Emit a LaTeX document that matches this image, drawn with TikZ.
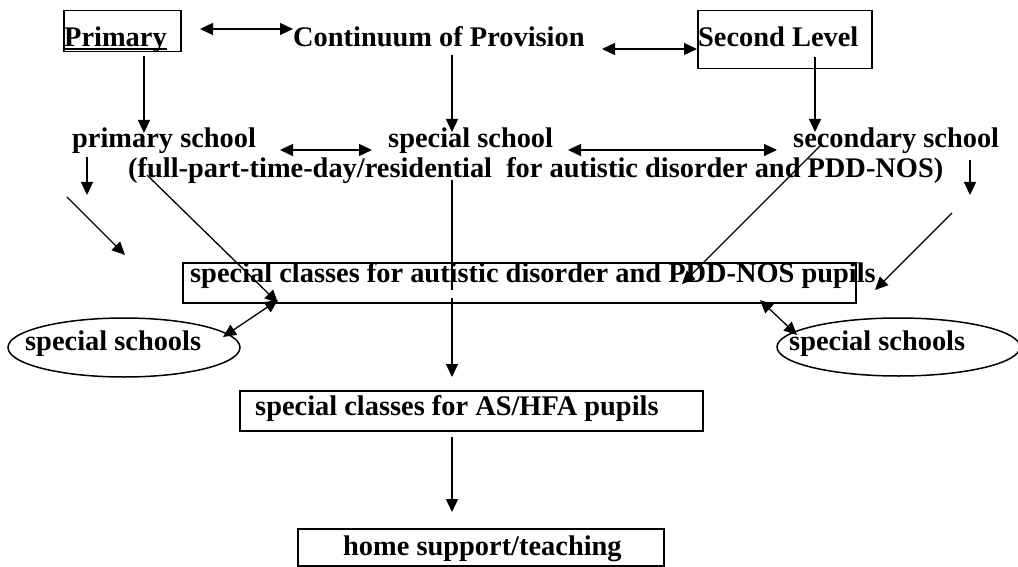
\documentclass[tikz,border=0pt]{standalone}
\usepackage{fontspec}
\setmainfont{Liberation Serif}
\usetikzlibrary{arrows.meta,shapes.geometric}

\tikzset{
  lbl/.style={anchor=base west, inner sep=0pt, font=\bfseries\fontsize{28.4}{34}\selectfont},
  boxed/.style={draw, line width=1.5pt, inner sep=0pt, anchor=north west},
  oval/.style={draw, ellipse, line width=1.5pt, inner sep=0pt},
  conn/.style={line width=1.3pt, -{Triangle[length=13pt,width=12pt]}},
  dbl/.style={line width=1.3pt, {Triangle[length=13pt,width=12pt]}-{Triangle[length=13pt,width=12pt]}},
}

\begin{document}
\begin{tikzpicture}[x=1pt,y=-1pt]
  \useasboundingbox (0,0) rectangle (1018,567);

  % frames
  \node[boxed, minimum width=117pt, minimum height=41pt] (primarybox) at (63,10) {};
  \node[boxed, minimum width=174pt, minimum height=58pt] (secondbox) at (697,10) {};
  \node[boxed, minimum width=673pt, minimum height=40pt] (autbox) at (182,262) {};
  \node[boxed, minimum width=463pt, minimum height=40pt] (asbox) at (239,390) {};
  \node[boxed, minimum width=366pt, minimum height=37pt] (homebox) at (297,528) {};
  \node[oval, minimum width=232pt, minimum height=59pt] (leftoval) at (124,347.5) {};
  \node[oval, minimum width=243pt, minimum height=58pt] (rightoval) at (898.5,347) {};

  % texts
  \node[lbl] (primary) at (64,47) {Primary};
  \draw[line width=1.2pt] ([yshift=-2pt]primary.base west) -- ([yshift=-2pt]primary.base east);
  \node[lbl] (continuum) at (293,47) {Continuum of Provision};
  \node[lbl] (second) at (698,47) {Second Level};
  \node[lbl] (primschool) at (72,148) {primary school};
  \node[lbl] (specschool) at (388,148) {special school};
  \node[lbl] (secschool) at (793,148) {secondary school};
  \node[lbl] (timing) at (128,178) {(full-part-time-day/residential\ \ for autistic disorder and PDD-NOS)};
  \node[lbl] (autclass) at (190,282) {special classes for autistic disorder and PDD-NOS pupils};
  \node[lbl] (leftspec) at (25,350) {special schools};
  \node[lbl] (rightspec) at (789,350) {special schools};
  \node[lbl] (asclass) at (255,415) {special classes for AS/HFA pupils};
  \node[lbl] (home) at (343,555) {home support/teaching};

  % connector ends
  \coordinate (a1) at (200,29);   \coordinate (a2) at (293,29);
  \coordinate (b1) at (602,49);   \coordinate (b2) at (697,49);
  \coordinate (c1) at (144,56);   \coordinate (c2) at (144,133);
  \coordinate (d1) at (452,55);   \coordinate (d2) at (452,132);
  \coordinate (e1) at (815,57);   \coordinate (e2) at (815,132);
  \coordinate (f1) at (280,150);  \coordinate (f2) at (372,150);
  \coordinate (g1) at (568,150);  \coordinate (g2) at (777,150);
  \coordinate (h1) at (87,157);   \coordinate (h2) at (87,195);
  \coordinate (i1) at (970,160);  \coordinate (i2) at (970,195);
  \coordinate (j1) at (67,197);   \coordinate (j2) at (125,255);
  \coordinate (k1) at (147,175);  \coordinate (k2) at (278,303);
  \coordinate (l1) at (452,180);  \coordinate (l2) at (452,290);
  \coordinate (m1) at (452,298);  \coordinate (m2) at (452,377);
  \coordinate (n1) at (223,337);  \coordinate (n2) at (278,300);
  \coordinate (o1) at (820,146);  \coordinate (o2) at (682,284);
  \coordinate (p1) at (952,213);  \coordinate (p2) at (875,290);
  \coordinate (q1) at (760,300);  \coordinate (q2) at (797,335);
  \coordinate (r1) at (452,437);  \coordinate (r2) at (452,512);

  % connectors
  \draw[dbl] (a1) -- (a2);
  \draw[dbl] (b1) -- (b2);
  \draw[conn] (c1) -- (c2);
  \draw[conn] (d1) -- (d2);
  \draw[conn] (e1) -- (e2);
  \draw[dbl] (f1) -- (f2);
  \draw[dbl] (g1) -- (g2);
  \draw[conn] (h1) -- (h2);
  \draw[conn] (i1) -- (i2);
  \draw[conn] (j1) -- (j2);
  \draw[conn] (k1) -- (k2);
  \draw[line width=1.3pt] (l1) -- (l2);
  \draw[conn] (m1) -- (m2);
  \draw[dbl] (n1) -- (n2);
  \draw[conn] (o1) -- (o2);
  \draw[conn] (p1) -- (p2);
  \draw[dbl] (q1) -- (q2);
  \draw[conn] (r1) -- (r2);
\end{tikzpicture}
\end{document}
